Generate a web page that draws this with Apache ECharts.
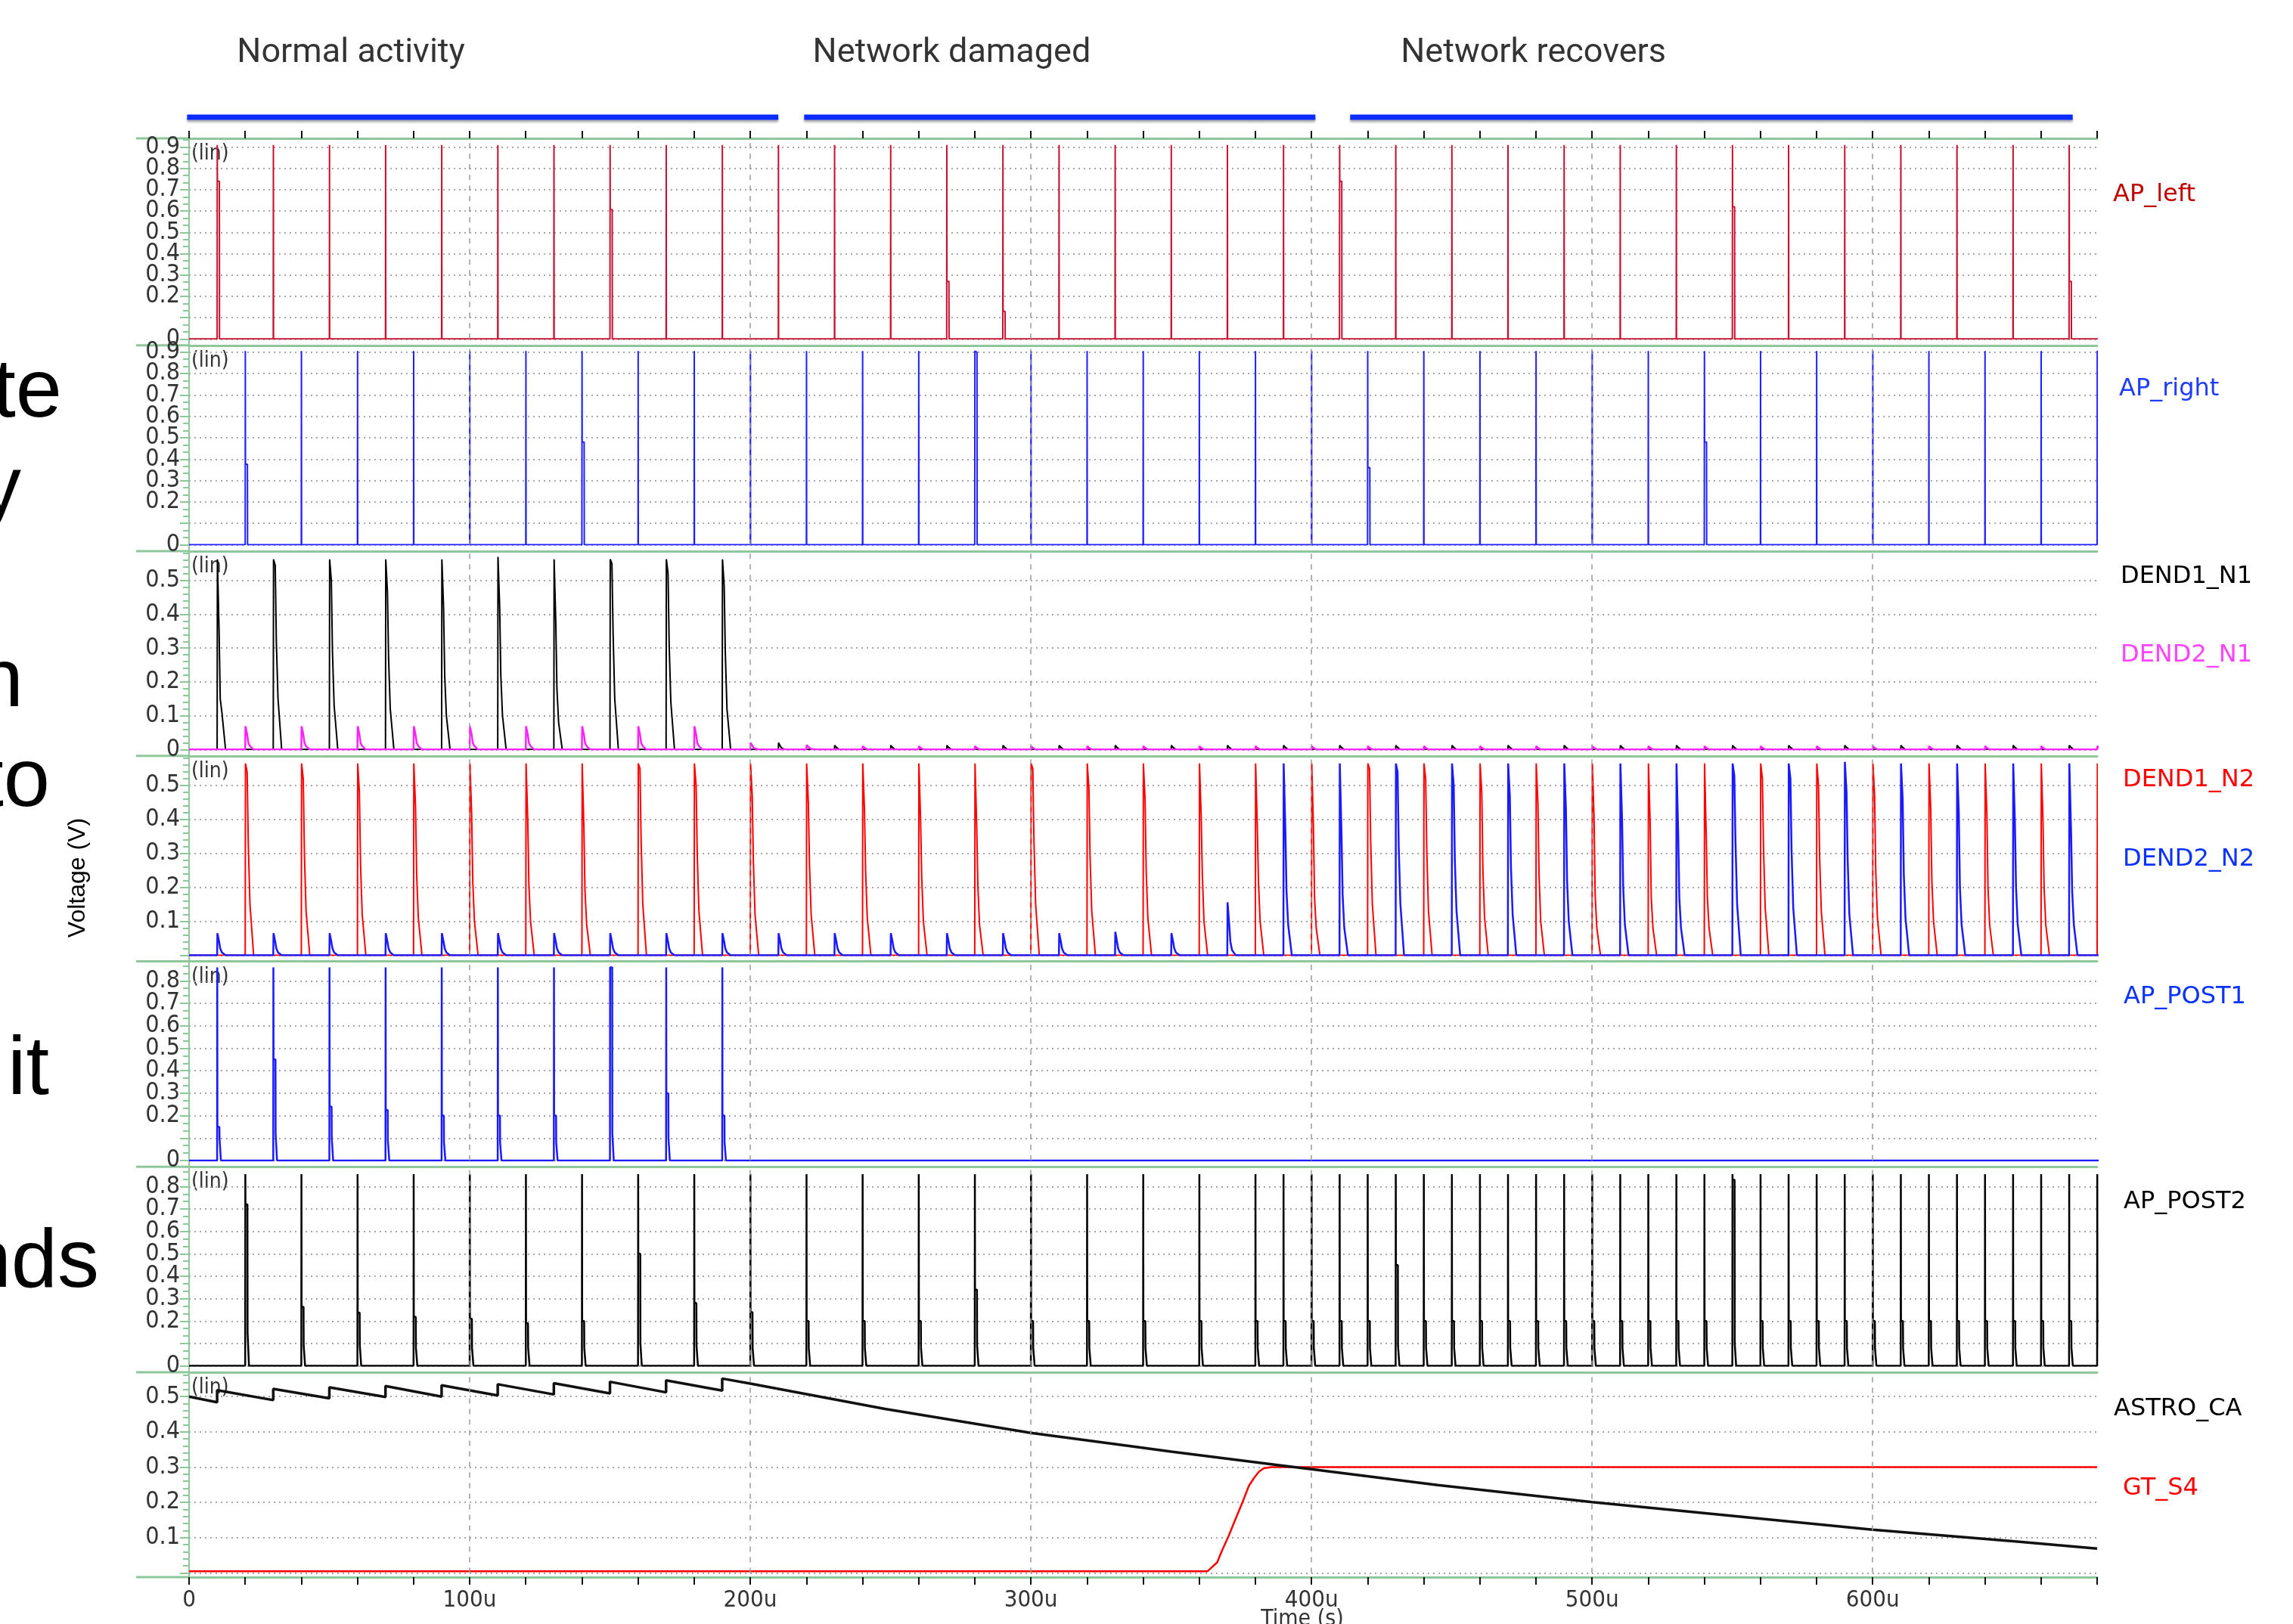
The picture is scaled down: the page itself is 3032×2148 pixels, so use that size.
<!DOCTYPE html>
<html><head><meta charset="utf-8">
<script src="https://cdn.jsdelivr.net/npm/echarts@6/dist/echarts.min.js"></script>
<style>html,body{margin:0;padding:0;background:#fff}#c{width:3032px;height:2148px}</style>
</head><body><div id="c"></div>
<script>
// ================= DATA =================
const PHASE_NAMES = ['Normal activity', 'Network damaged', 'Network recovers'];
const PHASE_TEXT_X = [57.7, 271.8, 479.1];
const PHASE_START = [-0.7, 219.2, 413.8];
const PHASE_END = [210.0, 401.4, 671.3];

const X_LABEL_VALUES = [0, 100, 200, 300, 400, 500, 600];
const X_TICK_LABELS = ['0', '100u', '200u', '300u', '400u', '500u', '600u'];
const V_GRID_LINES = [100, 200, 300, 400, 500, 600];

const Y_LABELS_P1 = [0, 0.2, 0.3, 0.4, 0.5, 0.6, 0.7, 0.8, 0.9];
const Y_LABELS_P2 = [0, 0.2, 0.3, 0.4, 0.5, 0.6, 0.7, 0.8, 0.9];
const Y_LABELS_P3 = [0, 0.1, 0.2, 0.3, 0.4, 0.5];
const Y_LABELS_P4 = [0.1, 0.2, 0.3, 0.4, 0.5];
const Y_LABELS_P5 = [0, 0.2, 0.3, 0.4, 0.5, 0.6, 0.7, 0.8];
const Y_LABELS_P6 = [0, 0.2, 0.3, 0.4, 0.5, 0.6, 0.7, 0.8];
const Y_LABELS_P7 = [0.1, 0.2, 0.3, 0.4, 0.5];

// AP_left spikes (time in us, peak V, hold level V)
const AP_LEFT_T = [10,30,50,70,90,110,130,150,170,190,210,230,250,270,290,310,330,350,370,390,410,430,450,470,490,510,530,550,570,590,610,630,650,670];
const AP_LEFT_PEAK = [0.91,0.91,0.91,0.91,0.91,0.91,0.91,0.91,0.91,0.91,0.91,0.91,0.91,0.91,0.91,0.91,0.91,0.91,0.91,0.91,0.91,0.91,0.91,0.91,0.91,0.91,0.91,0.91,0.91,0.91,0.91,0.91,0.91,0.91];
const AP_LEFT_HOLD = [0.74,0,0,0,0,0,0,0.607,0,0,0,0,0,0.27,0.13,0,0,0,0,0,0.74,0,0,0,0,0,0,0.62,0,0,0,0,0,0.27];

// AP_right spikes
const AP_RIGHT_T = [20,40,60,80,100,120,140,160,180,200,220,240,260,280,300,320,340,360,380,400,420,440,460,480,500,520,540,560,580,600,620,640,660,680];
const AP_RIGHT_PEAK = [0.905,0.905,0.905,0.905,0.905,0.905,0.905,0.905,0.905,0.905,0.905,0.905,0.905,0.905,0.905,0.905,0.905,0.905,0.905,0.905,0.905,0.905,0.905,0.905,0.905,0.905,0.905,0.905,0.905,0.905,0.905,0.905,0.905,0.905];
const AP_RIGHT_HOLD = [0.376,0,0,0,0,0,0.48,0,0,0,0,0,0,0.9,0,0,0,0,0,0,0.36,0,0,0,0,0,0.48,0,0,0,0,0,0,0.9];

// DEND1_N1 pulses (peak, then decay levels L1, L2, L3)
const DEND1_N1_T = [10,30,50,70,90,110,130,150,170,190,210,230,250,270,290,310,330,350,370,390,410,430,450,470,490,510,530,550,570,590,610,630,650,670];
const DEND1_N1_P  = [0.563,0.563,0.563,0.563,0.563,0.57,0.563,0.563,0.563,0.563,0.02,0.012,0.012,0.012,0.012,0.012,0.012,0.012,0.012,0.012,0.012,0.012,0.012,0.012,0.012,0.012,0.012,0.012,0.012,0.012,0.012,0.012,0.012,0.012];
const DEND1_N1_L1 = [0.35,0.545,0.5,0.465,0.42,0.42,0.375,0.55,0.52,0.485,0.01,0.006,0.006,0.006,0.006,0.006,0.006,0.006,0.006,0.006,0.006,0.006,0.006,0.006,0.006,0.006,0.006,0.006,0.006,0.006,0.006,0.006,0.006,0.006];
const DEND1_N1_L2 = [0.15,0.32,0.29,0.27,0.22,0.22,0.18,0.35,0.31,0.29,0.005,0.003,0.003,0.003,0.003,0.003,0.003,0.003,0.003,0.003,0.003,0.003,0.003,0.003,0.003,0.003,0.003,0.003,0.003,0.003,0.003,0.003,0.003,0.003];
const DEND1_N1_L3 = [0.11,0.15,0.13,0.12,0.1,0.1,0.08,0.15,0.14,0.12,0.002,0,0,0,0,0,0,0,0,0,0,0,0,0,0,0,0,0,0,0,0,0,0,0];

// DEND2_N1 pulses
const DEND2_N1_T = [20,40,60,80,100,120,140,160,180,200,220,240,260,280,300,320,340,360,380,400,420,440,460,480,500,520,540,560,580,600,620,640,660,680];
const DEND2_N1_P  = [0.069,0.069,0.069,0.069,0.069,0.069,0.069,0.069,0.069,0.02,0.013,0.01,0.01,0.01,0.01,0.01,0.01,0.01,0.01,0.01,0.01,0.01,0.01,0.01,0.01,0.01,0.01,0.01,0.01,0.01,0.01,0.01,0.01,0.01];
const DEND2_N1_L1 = [0.045,0.045,0.045,0.045,0.045,0.045,0.045,0.045,0.045,0.012,0.008,0.005,0.005,0.005,0.005,0.005,0.005,0.005,0.005,0.005,0.005,0.005,0.005,0.005,0.005,0.005,0.005,0.005,0.005,0.005,0.005,0.005,0.005,0.005];
const DEND2_N1_L2 = [0.02,0.02,0.02,0.02,0.02,0.02,0.02,0.02,0.02,0.006,0.004,0.002,0.002,0.002,0.002,0.002,0.002,0.002,0.002,0.002,0.002,0.002,0.002,0.002,0.002,0.002,0.002,0.002,0.002,0.002,0.002,0.002,0.002,0.002];
const DEND2_N1_L3 = [0.01,0.01,0.01,0.01,0.01,0.01,0.01,0.01,0.01,0.003,0.002,0,0,0,0,0,0,0,0,0,0,0,0,0,0,0,0,0,0,0,0,0,0,0];

// DEND1_N2 pulses (red)
const DEND1_N2_T = [20,40,60,80,100,120,140,160,180,200,220,240,260,280,300,320,340,360,380,400,420,440,460,480,500,520,540,560,580,600,620,640,660,680];
const DEND1_N2_P  = [0.565,0.565,0.565,0.565,0.565,0.565,0.565,0.565,0.565,0.565,0.565,0.565,0.565,0.565,0.565,0.565,0.565,0.565,0.565,0.565,0.565,0.565,0.565,0.565,0.565,0.565,0.565,0.565,0.565,0.565,0.565,0.565,0.565,0.565];
const DEND1_N2_L1 = [0.54,0.52,0.48,0.44,0.42,0.40,0.38,0.55,0.50,0.47,0.45,0.43,0.40,0.38,0.55,0.49,0.46,0.41,0.38,0.38,0.55,0.52,0.48,0.45,0.41,0.39,0.35,0.52,0.50,0.47,0.43,0.42,0.40,0.38];
const DEND1_N2_L2 = [0.33,0.30,0.27,0.24,0.22,0.21,0.19,0.34,0.30,0.28,0.27,0.25,0.23,0.21,0.34,0.29,0.25,0.24,0.22,0.17,0.34,0.31,0.25,0.24,0.18,0.17,0.17,0.32,0.29,0.25,0.22,0.20,0.20,0.19];
const DEND1_N2_L3 = [0.15,0.13,0.12,0.11,0.10,0.10,0.09,0.15,0.13,0.12,0.12,0.11,0.10,0.09,0.15,0.13,0.11,0.10,0.10,0.08,0.15,0.13,0.11,0.10,0.08,0.08,0.08,0.14,0.13,0.11,0.10,0.09,0.09,0.09];

// DEND2_N2 pulses (blue)
const DEND2_N2_T = [10,30,50,70,90,110,130,150,170,190,210,230,250,270,290,310,330,350,370,390,410,430,450,470,490,510,530,550,570,590,610,630,650,670];
const DEND2_N2_P  = [0.065,0.065,0.065,0.065,0.065,0.065,0.065,0.065,0.065,0.065,0.065,0.065,0.065,0.065,0.065,0.065,0.069,0.065,0.156,0.565,0.565,0.565,0.565,0.565,0.565,0.565,0.565,0.565,0.565,0.57,0.565,0.565,0.565,0.565];
const DEND2_N2_L1 = [0.04,0.04,0.04,0.04,0.04,0.04,0.04,0.04,0.04,0.04,0.04,0.04,0.04,0.04,0.04,0.04,0.04,0.04,0.09,0.37,0.36,0.54,0.50,0.47,0.43,0.40,0.36,0.53,0.52,0.48,0.46,0.42,0.39,0.37];
const DEND2_N2_L2 = [0.02,0.02,0.02,0.02,0.02,0.02,0.02,0.02,0.02,0.02,0.02,0.02,0.02,0.02,0.02,0.02,0.02,0.02,0.04,0.19,0.18,0.32,0.28,0.26,0.22,0.20,0.17,0.34,0.31,0.28,0.24,0.20,0.20,0.19];
const DEND2_N2_L3 = [0.008,0.008,0.008,0.008,0.008,0.008,0.008,0.008,0.008,0.008,0.008,0.008,0.008,0.008,0.008,0.008,0.008,0.008,0.015,0.09,0.08,0.15,0.13,0.12,0.10,0.09,0.08,0.15,0.14,0.12,0.11,0.09,0.09,0.09];

// AP_POST1 spikes
const AP_POST1_T = [10,30,50,70,90,110,130,150,170,190];
const AP_POST1_PEAK = [0.86,0.86,0.86,0.86,0.86,0.86,0.86,0.86,0.86,0.86];
const AP_POST1_HOLD = [0.15,0.45,0.24,0.225,0.2,0.2,0.2,0.86,0.3,0.2];
const AP_POST1_HOLD2 = [0.1,0.12,0.1,0.09,0.08,0.08,0.08,0.12,0.1,0.08];

// AP_POST2 spikes
const AP_POST2_T = [20,40,60,80,100,120,140,160,180,200,220,240,260,280,300,320,340,360,380,390,400,410,420,430,440,450,460,470,480,490,500,510,520,530,540,550,560,570,580,590,600,610,620,630,640,650,660,670,680];
const AP_POST2_PEAK = [0.855,0.855,0.855,0.855,0.855,0.855,0.855,0.855,0.855,0.855,0.855,0.855,0.855,0.855,0.855,0.855,0.855,0.855,0.855,0.855,0.855,0.855,0.855,0.855,0.855,0.855,0.855,0.855,0.855,0.855,0.855,0.855,0.855,0.855,0.855,0.855,0.855,0.855,0.855,0.855,0.855,0.855,0.855,0.855,0.855,0.855,0.855,0.855,0.855];
const AP_POST2_HOLD = [0.72,0.263,0.237,0.219,0.21,0.19,0.2,0.5,0.28,0.24,0.2,0.2,0.2,0.34,0.2,0.2,0.2,0.2,0.2,0.2,0.2,0.2,0.2,0.45,0.2,0.2,0.2,0.2,0.2,0.2,0.2,0.2,0.2,0.2,0.2,0.83,0.2,0.2,0.2,0.2,0.2,0.2,0.2,0.2,0.2,0.2,0.2,0.2,0.2];
const AP_POST2_HOLD2 = [0.15,0.09,0.09,0.08,0.08,0.08,0.08,0.1,0.09,0.08,0.08,0.08,0.08,0.09,0.08,0.08,0.08,0.08,0.08,0.08,0.08,0.08,0.08,0.09,0.08,0.08,0.08,0.08,0.08,0.08,0.08,0.08,0.08,0.08,0.08,0.1,0.08,0.08,0.08,0.08,0.08,0.08,0.08,0.08,0.08,0.08,0.08,0.08,0.08];

// ASTRO_CA trace
const ASTRO_T = [0,10,10,30,30,50,50,70,70,90,90,110,110,130,130,150,150,170,170,190,190,200,248,300,337,350,389,400,445,500,550,600,650,680];
const ASTRO_V = [0.500,0.484,0.518,0.490,0.522,0.495,0.526,0.499,0.530,0.500,0.532,0.503,0.535,0.506,0.538,0.509,0.542,0.512,0.546,0.517,0.551,0.537,0.465,0.397,0.358,0.344,0.305,0.294,0.249,0.201,0.162,0.1225,0.090,0.069];

// GT_S4 trace
const GT_T = [0,363,366.4,368.2,370.5,373.2,375.4,377.7,379.5,381.3,383,385.8,680];
const GT_V = [0.005,0.005,0.03,0.065,0.105,0.158,0.2,0.247,0.269,0.287,0.297,0.3,0.3];

// ================= LAYOUT =================
const X_MIN = 0, X_MAX = 680;
const PLOT_L = 250, PLOT_R = 259;
const PANELS = [
  {top: 183, zero: 448.3, max: 0.941, off: 8.5, minor: 3, labels: Y_LABELS_P1},
  {top: 457, zero: 720.5, max: 0.931, off: 8.5, minor: 3, labels: Y_LABELS_P2},
  {top: 729, zero: 991.3, max: 0.587, off: 8.5, minor: 5, labels: Y_LABELS_P3},
  {top: 1000, zero: 1263.4, max: 0.587, off: 8.2, minor: 5, labels: Y_LABELS_P4},
  {top: 1271.5, zero: 1535, max: 0.887, off: 8.2, minor: 3, labels: Y_LABELS_P5},
  {top: 1543, zero: 1806.6, max: 0.889, off: 8.4, minor: 3, labels: Y_LABELS_P6},
  {top: 1815, zero: 2080.5, max: 0.569, off: 5.5, minor: 5, labels: Y_LABELS_P7}
];
const GREEN = '#8ec89a';
const LABEL_FONT = "'DejaVu Sans Condensed', 'DejaVu Sans', sans-serif";
const HOLD_W = 0.8;   // width (us) of the hold step drawn after a spike

// ================= BUILD =================
function spikes(T, P, H, H2) {
  const d = [[X_MIN, 0]];
  T.forEach((t, i) => {
    const h = H[i], h2 = H2 ? H2[i] : 0;
    d.push([t, 0], [t + 0.05, P[i]], [t + 0.1, h], [t + HOLD_W, h], [t + HOLD_W + 0.05, h2], [t + HOLD_W + 0.5, h2], [t + HOLD_W + 0.55, 0]);
  });
  d.push([X_MAX + 2, 0]);
  return d;
}
function pulses(T, P, L1, L2, L3) {
  const d = [[X_MIN, 0]];
  T.forEach((t, i) => {
    d.push([t, 0], [t + 0.1, P[i]], [t + 0.7, L1[i]], [t + 1.1, L2[i]], [t + 1.7, L3[i]], [t + 3.0, 0]);
  });
  d.push([X_MAX + 2, 0]);
  return d;
}
function zipXY(T, V) { return T.map((t, i) => [t, V[i]]); }

const grids = [{left: PLOT_L, right: PLOT_R, top: 150, height: 10}];
const xAxes = [{gridIndex: 0, type: 'value', min: X_MIN, max: X_MAX, show: false}];
const yAxes = [{gridIndex: 0, type: 'value', min: 0, max: 1, show: false}];

PANELS.forEach((p, i) => {
  const gi = i + 1;
  const isLast = i === PANELS.length - 1;
  grids.push({left: PLOT_L, right: PLOT_R, top: p.top, height: p.zero - p.top});
  xAxes.push({
    gridIndex: gi, type: 'value', min: X_MIN, max: X_MAX, interval: 20, position: 'bottom',
    offset: p.off,
    axisLine: {show: true, onZero: false, lineStyle: {color: GREEN, width: 3}},
    axisTick: {show: isLast, length: 10, lineStyle: {color: '#111', width: 2}},
    axisLabel: {
      show: isLast, margin: 15, hideOverlap: false, showMaxLabel: true,
      fontFamily: LABEL_FONT, fontSize: 31, color: '#333',
      formatter: v => { const k = X_LABEL_VALUES.indexOf(Math.round(v)); return k >= 0 ? X_TICK_LABELS[k] : ''; }
    },
    splitLine: {show: false}
  });
  yAxes.push({
    gridIndex: gi, type: 'value', min: 0, max: p.max, interval: 0.1,
    axisLine: {show: true, onZero: false, lineStyle: {color: GREEN, width: 2}},
    axisTick: {show: true, length: 12, lineStyle: {color: GREEN, width: 2}},
    minorTick: {show: true, splitNumber: p.minor, length: 8, lineStyle: {color: GREEN, width: 2}},
    axisLabel: {
      margin: 12, hideOverlap: false, showMaxLabel: false,
      fontFamily: LABEL_FONT, fontSize: 32, color: '#333',
      formatter: v => {
        const r = Math.round(v * 10) / 10;
        if (Math.abs(v - r) > 1e-6) return '';
        return p.labels.some(l => Math.abs(l - r) < 1e-6) ? (r === 0 ? '0' : String(r)) : '';
      }
    },
    splitLine: {show: true, lineStyle: {color: '#a8a8a8', type: [2, 5], width: 2}}
  });
});
xAxes.push({
  gridIndex: 1, type: 'value', min: X_MIN, max: X_MAX, interval: 20, position: 'top',
  axisLine: {show: true, onZero: false, lineStyle: {color: GREEN, width: 3}},
  axisTick: {show: true, length: 10, lineStyle: {color: '#111', width: 2}},
  axisLabel: {show: false}, splitLine: {show: false}
});

const vMark = {
  silent: true, symbol: 'none', animation: false,
  label: {show: false},
  lineStyle: {color: '#9a9a9a', type: [7, 7], width: 1.5},
  data: V_GRID_LINES.map(v => ({xAxis: v}))
};

function lineSeries(name, gi, data, color, width, withMark) {
  const s = {
    name, type: 'line', xAxisIndex: gi, yAxisIndex: gi, data,
    showSymbol: false, symbol: 'none', animation: false, silent: true,
    lineStyle: {color, width}, itemStyle: {color}, z: 3
  };
  if (withMark) s.markLine = vMark;
  return s;
}

const series = [];
PHASE_NAMES.forEach((n, i) => {
  series.push({
    type: 'line', xAxisIndex: 0, yAxisIndex: 0, clip: false, animation: false, silent: true,
    showSymbol: false, symbol: 'none',
    data: [[PHASE_START[i], 0.5], [PHASE_END[i], 0.5]],
    lineStyle: {color: '#0a2cff', width: 7, cap: 'butt', shadowColor: 'rgba(0,0,0,0.35)', shadowBlur: 3, shadowOffsetY: 3}
  });
});
series.push({
  type: 'scatter', xAxisIndex: 0, yAxisIndex: 0, clip: false, animation: false, silent: true,
  symbolSize: 1, itemStyle: {color: 'rgba(0,0,0,0)'},
  data: PHASE_NAMES.map((n, i) => ({name: n, value: [PHASE_TEXT_X[i], 0.5]})),
  label: {show: true, position: 'inside', offset: [0, -84], formatter: '{b}',
    fontFamily: 'Roboto, sans-serif', fontSize: 45, color: '#000'}
});

series.push(lineSeries('AP_left', 1, spikes(AP_LEFT_T, AP_LEFT_PEAK, AP_LEFT_HOLD), '#c8102e', 2, true));
series.push(lineSeries('AP_right', 2, spikes(AP_RIGHT_T, AP_RIGHT_PEAK, AP_RIGHT_HOLD), '#1f1fff', 2, true));
series.push(lineSeries('DEND1_N1', 3, pulses(DEND1_N1_T, DEND1_N1_P, DEND1_N1_L1, DEND1_N1_L2, DEND1_N1_L3), '#000', 2, true));
series.push(lineSeries('DEND2_N1', 3, pulses(DEND2_N1_T, DEND2_N1_P, DEND2_N1_L1, DEND2_N1_L2, DEND2_N1_L3), '#ff22ff', 2.5, false));
series.push(lineSeries('DEND1_N2', 4, pulses(DEND1_N2_T, DEND1_N2_P, DEND1_N2_L1, DEND1_N2_L2, DEND1_N2_L3), '#ff0000', 2, true));
series.push(lineSeries('DEND2_N2', 4, pulses(DEND2_N2_T, DEND2_N2_P, DEND2_N2_L1, DEND2_N2_L2, DEND2_N2_L3), '#1a1aff', 2.5, false));
series.push(lineSeries('AP_POST1', 5, spikes(AP_POST1_T, AP_POST1_PEAK, AP_POST1_HOLD, AP_POST1_HOLD2), '#1a1aff', 2.5, true));
series.push(lineSeries('AP_POST2', 6, spikes(AP_POST2_T, AP_POST2_PEAK, AP_POST2_HOLD, AP_POST2_HOLD2), '#000', 2.5, true));
series.push(lineSeries('GT_S4', 7, zipXY(GT_T, GT_V), '#ff0000', 2.5, true));
series.push(lineSeries('ASTRO_CA', 7, zipXY(ASTRO_T, ASTRO_V), '#111', 3.5, false));

// ================= TEXT / DECORATION =================
const SIDE_LABELS = [
  {text: 'AP_left', x: 2794, y: 258, color: '#c00000'},
  {text: 'AP_right', x: 2802, y: 515, color: '#1f3bff'},
  {text: 'DEND1_N1', x: 2804, y: 763, color: '#000000'},
  {text: 'DEND2_N1', x: 2804, y: 867, color: '#ff44ff'},
  {text: 'DEND1_N2', x: 2807, y: 1032, color: '#ff0000'},
  {text: 'DEND2_N2', x: 2807, y: 1137, color: '#0a32ff'},
  {text: 'AP_POST1', x: 2808, y: 1319, color: '#0a32ff'},
  {text: 'AP_POST2', x: 2808, y: 1590, color: '#000000'},
  {text: 'ASTRO_CA', x: 2795, y: 1864, color: '#000000'},
  {text: 'GT_S4', x: 2807, y: 1969, color: '#ff0000'}
];
const SLIDE_FRAGMENTS = [
  {text: 'te', x: 82, y: 521}, {text: 'y', x: 28, y: 649}, {text: 'n', x: 31, y: 904},
  {text: 'to', x: 66, y: 1036}, {text: 'it', x: 65, y: 1417}, {text: 'nds', x: 131, y: 1672}
];

const graphic = [];
SIDE_LABELS.forEach(l => graphic.push({type: 'text', silent: true, style: {
  text: l.text, x: l.x, y: l.y, fill: l.color, font: "32px 'DejaVu Sans', sans-serif",
  textAlign: 'left', textVerticalAlign: 'middle'}}));
SLIDE_FRAGMENTS.forEach(l => graphic.push({type: 'text', silent: true, style: {
  text: l.text, x: l.x, y: l.y, fill: '#000', font: "110px 'Liberation Sans', Arial, sans-serif",
  textAlign: 'right', textVerticalAlign: 'middle'}}));
PANELS.forEach(p => graphic.push({type: 'text', silent: true, style: {
  text: '(lin)', x: PLOT_L + 3, y: p.top + 21, fill: '#333', font: "28px " + LABEL_FONT,
  textAlign: 'left', textVerticalAlign: 'middle'}}));
graphic.push({type: 'text', silent: true, rotation: Math.PI / 2, x: 103, y: 1161, style: {
  text: 'Voltage (V)', x: 0, y: 0, fill: '#000', font: "32px 'Liberation Sans', Arial, sans-serif",
  textAlign: 'center', textVerticalAlign: 'middle'}});
graphic.push({type: 'text', silent: true, style: {
  text: 'Time (s)', x: 1722, y: 2142, fill: '#333', font: "30px " + LABEL_FONT,
  textAlign: 'center', textVerticalAlign: 'middle'}});
const SEP_Y = [183].concat(PANELS.map(p => p.zero + p.off));
SEP_Y.forEach(y => graphic.push({type: 'line', silent: true, shape: {x1: 180, y1: y, x2: PLOT_L, y2: y},
  style: {stroke: GREEN, lineWidth: 3}}));
graphic.push({type: 'line', silent: true, shape: {x1: PLOT_L, y1: 183, x2: PLOT_L, y2: SEP_Y[SEP_Y.length - 1]},
  style: {stroke: GREEN, lineWidth: 2}});

const chart = echarts.init(document.getElementById('c'), null, {renderer: 'canvas'});
chart.setOption({
  backgroundColor: '#fff', animation: false,
  grid: grids, xAxis: xAxes, yAxis: yAxes, series, graphic
});
</script></body></html>
